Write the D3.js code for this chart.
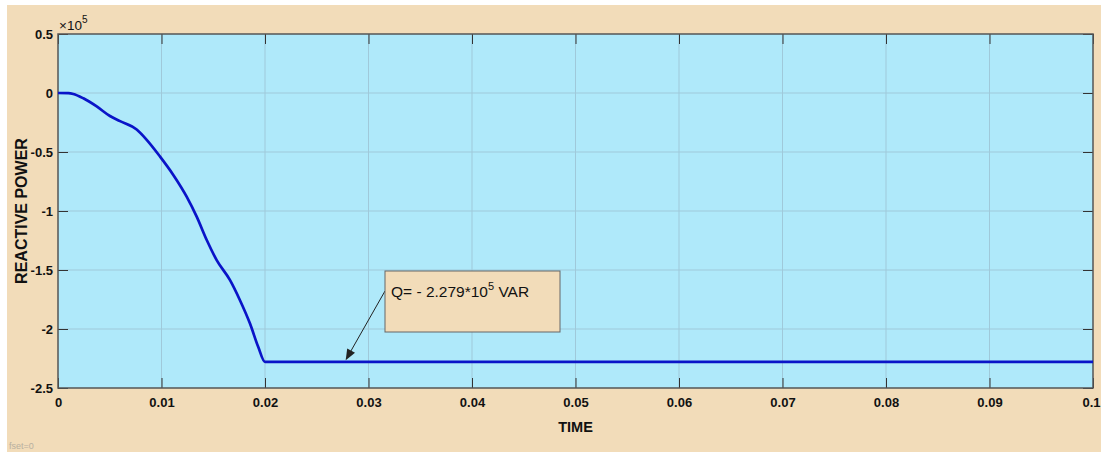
<!DOCTYPE html>
<html><head><meta charset="utf-8">
<script src="https://cdn.jsdelivr.net/npm/d3@7"></script>
<style>body{margin:0;background:#fff;}svg{display:block;font-family:Arial,"Liberation Sans",sans-serif;}</style>
</head><body>
<script>
const timeValues = [0, 0.001, 0.00148, 0.00245, 0.00374, 0.00502, 0.00599, 0.0076, 0.00857, 0.00986, 0.01114, 0.01243, 0.0134, 0.01437, 0.01533, 0.01662, 0.01758, 0.01855, 0.01935, 0.02, 0.1];
const reactivePower = [0, -0.001, -0.008, -0.045, -0.114, -0.195, -0.238, -0.31, -0.397, -0.539, -0.694, -0.878, -1.048, -1.246, -1.416, -1.586, -1.756, -1.954, -2.153, -2.279, -2.279];
const xTicks = [0, 0.01, 0.02, 0.03, 0.04, 0.05, 0.06, 0.07, 0.08, 0.09, 0.1];
const xTickLabels = ["0", "0.01", "0.02", "0.03", "0.04", "0.05", "0.06", "0.07", "0.08", "0.09", "0.1"];
const yTicks = [0.5, 0, -0.5, -1, -1.5, -2, -2.5];
const yTickLabels = ["0.5", "0", "-0.5", "-1", "-1.5", "-2", "-2.5"];
const annotationText = "Q= - 2.279*10";
const annotationPoint = [0.0277, -2.279];

const W = 1101, H = 452;
const L = 58, R = 1093, T = 34, B = 388;
const svg = d3.select("body").append("svg").attr("width", W).attr("height", H);
svg.append("rect").attr("x", 7).attr("y", 5).attr("width", W - 7).attr("height", H - 5).attr("fill", "#f2dcb9");

const x = d3.scaleLinear().domain([0, 0.1]).range([L, R]);
const y = d3.scaleLinear().domain([-2.5, 0.5]).range([B, T]);

svg.append("rect").attr("x", L).attr("y", T).attr("width", R - L).attr("height", B - T).attr("fill", "#afe9fa");

// grid
const g = svg.append("g");
g.selectAll(".vg").data(xTicks.slice(1, -1)).join("line")
  .attr("x1", d => x(d)).attr("x2", d => x(d)).attr("y1", T).attr("y2", B)
  .attr("stroke", "#9fc9da").attr("stroke-width", 1);
g.selectAll(".hg").data(yTicks.slice(1, -1)).join("line")
  .attr("x1", L).attr("x2", R).attr("y1", d => y(d)).attr("y2", d => y(d))
  .attr("stroke", "#9fc9da").attr("stroke-width", 1);

// axes
const xAxis = svg.append("g").attr("transform", `translate(0,${B})`)
  .call(d3.axisBottom(x).tickValues(xTicks).tickFormat((d, i) => xTickLabels[i]).tickSizeInner(-10).tickSizeOuter(0).tickPadding(10));
const xAxisTop = svg.append("g").attr("transform", `translate(0,${T})`)
  .call(d3.axisTop(x).tickValues(xTicks).tickFormat("").tickSizeInner(-10).tickSizeOuter(0));
const yAxis = svg.append("g").attr("transform", `translate(${L},0)`)
  .call(d3.axisLeft(y).tickValues(yTicks).tickFormat((d, i) => yTickLabels[i]).tickSizeInner(-10).tickSizeOuter(0).tickPadding(5));
const yAxisR = svg.append("g").attr("transform", `translate(${R},0)`)
  .call(d3.axisRight(y).tickValues(yTicks).tickFormat("").tickSizeInner(-10).tickSizeOuter(0));
[xAxis, xAxisTop, yAxis, yAxisR].forEach(a => {
  a.select(".domain").remove();
  a.selectAll(".tick line").attr("stroke", "#333").attr("stroke-width", 1);
  a.selectAll("text").attr("fill", "#111").attr("font-size", 13).attr("font-weight", "bold").attr("font-family", "Arial, 'Liberation Sans', sans-serif");
});
yAxis.selectAll("text").attr("dy", "0.35em");
xAxis.selectAll(".tick text").filter((d, i) => i === xTicks.length - 1)
  .attr("text-anchor", "end").attr("x", W - 1 - R);

svg.append("rect").attr("x", L).attr("y", T).attr("width", R - L).attr("height", B - T)
  .attr("fill", "none").attr("stroke", "#555").attr("stroke-width", 1.5);

// line
const line = d3.line().x((d, i) => x(timeValues[i])).y(d => y(d)).curve(d3.curveMonotoneX);
svg.append("path").datum(reactivePower).attr("d", line)
  .attr("fill", "none").attr("stroke", "#0a14c8").attr("stroke-width", 2.7);

// multiplier
const mult = svg.append("text").attr("x", L + 1).attr("y", T - 4).attr("font-size", 13.5).attr("fill", "#111");
mult.append("tspan").text("\u00d710");
mult.append("tspan").attr("dy", -7).attr("font-size", 10).text("5");

// axis labels
svg.append("text").attr("x", (L + R) / 2).attr("y", 432).attr("text-anchor", "middle")
  .attr("font-size", 14.5).attr("font-weight", "bold").attr("fill", "#111").text("TIME");
svg.append("text").attr("transform", `translate(27,${(T + B) / 2}) rotate(-90)`).attr("text-anchor", "middle")
  .attr("font-size", 16).attr("font-weight", "bold").attr("fill", "#111").text("REACTIVE POWER");

// annotation
const bx = 385, by = 271, bw = 175, bh = 61;
const ax = x(annotationPoint[0]), ay = y(annotationPoint[1]);
const sx = bx, sy = 291;
const ang = Math.atan2(ay - sy, ax - sx);
const hl = 11, hw = 4.5;
const ex = ax - Math.cos(ang) * 2, ey = ay - Math.sin(ang) * 2;
svg.append("line").attr("x1", sx).attr("y1", sy).attr("x2", ex - Math.cos(ang) * hl * 0.8).attr("y2", ey - Math.sin(ang) * hl * 0.8)
  .attr("stroke", "#222").attr("stroke-width", 1);
const bxp = ex - Math.cos(ang) * hl, byp = ey - Math.sin(ang) * hl;
svg.append("path").attr("d", `M${ex},${ey} L${bxp - Math.sin(ang) * hw},${byp + Math.cos(ang) * hw} L${bxp + Math.sin(ang) * hw},${byp - Math.cos(ang) * hw} Z`)
  .attr("fill", "#222");
svg.append("rect").attr("x", bx).attr("y", by).attr("width", bw).attr("height", bh)
  .attr("fill", "#f2dcb9").attr("stroke", "#666").attr("stroke-width", 1);
const at = svg.append("text").attr("x", bx + 6).attr("y", by + 26).attr("font-size", 15.5).attr("fill", "#111");
at.append("tspan").text(annotationText);
at.append("tspan").attr("dy", -7).attr("font-size", 11).text("5");
at.append("tspan").attr("dy", 7).text(" VAR");

svg.append("text").attr("x", 9).attr("y", 449).attr("font-size", 9).attr("fill", "#b8b0a0").text("fset=0");
</script>
</body></html>
